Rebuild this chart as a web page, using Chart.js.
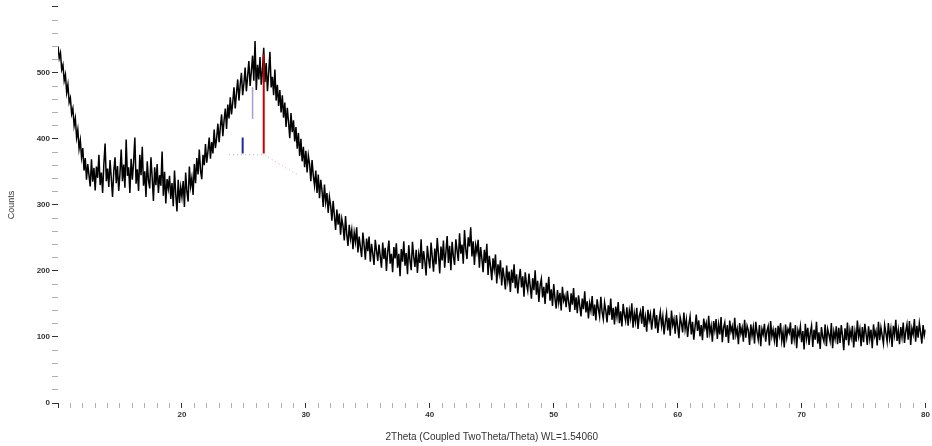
<!DOCTYPE html>
<html>
<head>
<meta charset="utf-8">
<script src="https://cdn.jsdelivr.net/npm/chart.js@4"></script>
<style>
  body { margin: 0; background: #fff; }
</style>
</head>
<body>
<canvas id="xrd" width="932" height="446"></canvas>
<script>
// scan grid (degrees 2theta)
const startAngle = 10
const stepAngle = 0.1

// counts, 0.1 deg apart, one row per degree
const counts10to30 = [
  540, 522, 530, 505, 512, 488, 497, 470, 482, 455,
  462, 438, 446, 420, 431, 402, 414, 385, 398, 372,
  386, 352, 371, 338, 362, 345, 328, 369, 335, 356,
  322, 358, 341, 376, 330, 349, 318, 362, 393, 336,
  355, 327, 368, 340, 312, 351, 372, 333, 359, 321,
  347, 384, 336, 361, 326, 399, 344, 357, 318, 370,
  338, 365, 402, 332, 354, 321, 376, 345, 388, 329,
  351, 312, 366, 337, 325, 372, 341, 306, 357, 330,
  362, 318, 345, 329, 381, 314, 350, 302, 339, 325,
  344, 309, 333, 298, 352, 316, 290, 338, 303, 327,
  312, 336, 297, 349, 320, 305, 358, 328, 341, 315,
  362, 333, 371, 346, 384, 352, 339, 376, 360, 392,
  364, 381, 402, 370, 395, 378, 414, 386, 401, 423,
  395, 418, 437, 404, 428, 446, 415, 452, 431, 463,
  437, 455, 478, 446, 469, 490, 458, 482, 500, 466,
  484, 508, 472, 495, 518, 480, 502, 526, 488, 548,
  474, 512, 490, 524, 482, 505, 538, 486, 515, 472,
  500, 532, 478, 494, 466, 505, 458, 482, 450, 474,
  440, 466, 432, 455, 418, 447, 426, 401, 439, 410,
  428, 396, 418, 385, 409, 374, 400, 366, 388, 357
]
const counts30to50 = [
  382, 349, 375, 362, 336, 368, 344, 329, 352, 318,
  346, 310, 338, 322, 297, 331, 304, 318, 288, 312,
  299, 276, 306, 284, 262, 293, 270, 287, 255, 279,
  268, 246, 283, 255, 238, 270, 249, 262, 233, 258,
  244, 266, 228, 252, 236, 221, 258, 239, 217, 249,
  230, 252, 214, 241, 226, 209, 247, 231, 215, 240,
  222, 205, 243, 218, 235, 200, 229, 246, 211, 226,
  198, 236, 219, 242, 205, 226, 192, 233, 214, 245,
  208, 227, 195, 239, 216, 201, 244, 222, 206, 232,
  197, 225, 212, 248, 203, 230, 215, 193, 238, 219,
  204, 243, 221, 199, 234, 210, 250, 225, 196, 237,
  216, 246, 205, 229, 253, 212, 238, 201, 244, 222,
  209, 248, 231, 215, 257, 226, 240, 211, 262, 233,
  218, 251, 237, 266, 222, 245, 209, 239, 228, 247,
  205, 236, 219, 198, 232, 212, 241, 194, 223, 207,
  186, 219, 203, 225, 181, 210, 196, 216, 178, 205,
  190, 172, 208, 185, 199, 168, 202, 182, 210, 174,
  195, 166, 188, 203, 175, 192, 161, 198, 180, 170,
  196, 177, 158, 189, 171, 201, 164, 185, 153, 178,
  188, 160, 176, 150, 182, 166, 191, 155, 172, 147
]
const counts50to80 = [
  180, 158, 143, 171, 152, 167, 140, 176, 155, 162,
  145, 170, 153, 138, 166, 149, 174, 141, 160, 136,
  163, 147, 131, 158, 142, 169, 137, 154, 128, 151,
  140, 162, 132, 149, 125, 157, 143, 131, 161, 138,
  127, 152, 140, 122, 148, 133, 158, 126, 144, 119,
  146, 131, 153, 121, 139, 116, 150, 134, 124, 145,
  117, 140, 128, 151, 114, 136, 123, 144, 112, 132,
  139, 120, 147, 115, 130, 108, 141, 125, 135, 111,
  128, 143, 113, 133, 106, 125, 138, 117, 131, 104,
  122, 136, 110, 129, 102, 140, 118, 127, 105, 133,
  116, 98, 130, 121, 107, 137, 112, 126, 100, 119,
  131, 104, 123, 96, 115, 134, 109, 125, 101, 118,
  95, 128, 113, 121, 99, 132, 106, 117, 93, 124,
  110, 127, 97, 119, 104, 130, 92, 114, 122, 100,
  118, 91, 125, 108, 116, 96, 129, 103, 112, 89,
  121, 105, 114, 93, 126, 99, 117, 110, 88, 119,
  102, 115, 90, 123, 107, 96, 118, 86, 112, 104,
  120, 93, 109, 116, 87, 124, 101, 111, 95, 114,
  85, 117, 103, 121, 94, 108, 84, 119, 99, 112,
  106, 122, 89, 113, 97, 118, 83, 110, 102, 116,
  92, 109, 81, 120, 98, 114, 88, 106, 117, 85,
  111, 96, 123, 90, 107, 82, 115, 100, 93, 119,
  86, 112, 104, 94, 121, 83, 108, 97, 116, 89,
  114, 91, 118, 102, 80, 113, 95, 122, 87, 110,
  99, 117, 84, 108, 93, 125, 101, 112, 86, 115,
  92, 120, 105, 88, 116, 97, 111, 83, 119, 101,
  109, 87, 123, 95, 114, 102, 90, 118, 106, 93,
  121, 98, 112, 85, 117, 103, 126, 94, 110, 89,
  115, 100, 122, 91, 108, 119, 96, 124, 88, 113,
  104, 127, 93, 117, 99, 121, 107, 90, 118, 102,
  111
]

// reference pattern sticks
const stickAngles = [24.9, 25.7, 26.6]
const stickLow = [378, 430, 378]
const stickHigh = [402, 478, 528]

const xTitle = '2Theta (Coupled TwoTheta/Theta) WL=1.54060'
const yTitle = 'Counts'

const allCounts = counts10to30.concat(counts30to50, counts50to80)
const scan = allCounts.map((c, i) => ({ x: +(startAngle + i * stepAngle).toFixed(1), y: c }))

const stickColors = ['#1f2a9a', '#a99ad8', '#c80000']
const stickWidths = [2, 1.5, 2]
const stickSets = stickAngles.map((a, i) => ({
  data: [{ x: a, y: stickLow[i] }, { x: a, y: stickHigh[i] }],
  borderColor: stickColors[i],
  borderWidth: stickWidths[i],
  pointRadius: 0,
  order: 0
}))

// faint dotted base line under the sticks
const baseSet = {
  data: [{ x: 23.8, y: 376 }, { x: 26.6, y: 376 }, { x: 29.3, y: 346 }],
  borderColor: 'rgba(190,90,90,0.55)',
  borderWidth: 1,
  borderDash: [1, 3],
  pointRadius: 0,
  order: 1
}

const ctx = document.getElementById('xrd')
new Chart(ctx, {
  type: 'line',
  data: {
    datasets: [
      {
        data: scan,
        borderColor: '#000',
        borderWidth: 1.5,
        pointRadius: 0,
        tension: 0,
        order: 2
      },
      baseSet
    ].concat(stickSets)
  },
  options: {
    responsive: false,
    animation: false,
    layout: { padding: { top: 5, right: 4 } },
    plugins: {
      legend: { display: false },
      tooltip: { enabled: false }
    },
    scales: {
      x: {
        type: 'linear',
        min: 10,
        max: 80,
        border: { display: false },
        grid: {
          drawOnChartArea: false,
          tickLength: 5,
          color: (c) => (c.tick && c.tick.value % 10 === 0) ? '#333' : '#b0b0b0'
        },
        ticks: {
          stepSize: 1,
          autoSkip: false,
          maxRotation: 0,
          padding: 2,
          color: '#333',
          font: { family: 'Liberation Sans', size: 8, weight: 'bold' },
          callback: (v) => (v % 10 === 0 && v > 10) ? v : ''
        },
        title: {
          display: true,
          text: xTitle,
          color: '#333',
          font: { family: 'Liberation Sans', size: 10 },
          padding: { top: 0, bottom: 3 }
        },
        afterFit: (scale) => { scale.height = 43 }
      },
      y: {
        min: 0,
        max: 600,
        border: { display: false },
        grid: {
          drawOnChartArea: false,
          tickLength: 6,
          color: (c) => (c.tick && c.tick.value % 100 === 0) ? '#333' : '#b0b0b0'
        },
        ticks: {
          stepSize: 20,
          autoSkip: false,
          padding: 2,
          color: '#333',
          font: { family: 'Liberation Sans', size: 8, weight: 'bold' },
          callback: (v) => (v % 100 === 0 && v < 600) ? v : ''
        },
        title: {
          display: true,
          text: yTitle,
          color: '#333',
          font: { family: 'Liberation Sans', size: 9 },
          padding: { top: 6, bottom: 0 }
        },
        afterFit: (scale) => { scale.width = 58 }
      }
    }
  }
})
</script>
</body>
</html>
